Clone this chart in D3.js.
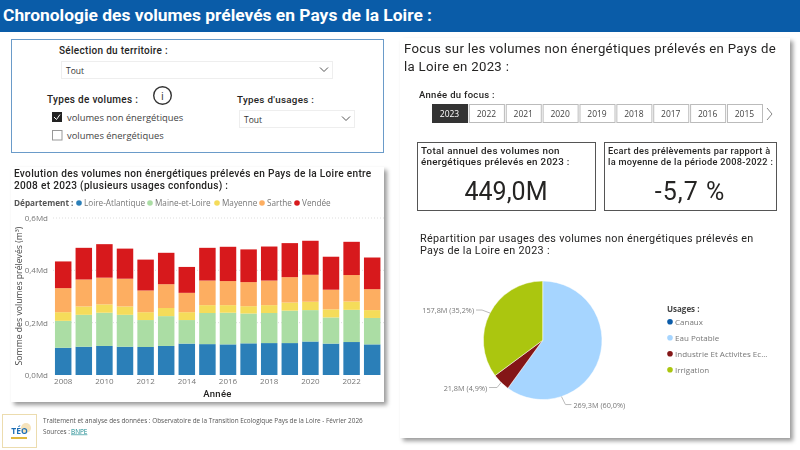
<!DOCTYPE html>
<html>
<head>
<meta charset="utf-8">
<script src="https://cdn.jsdelivr.net/npm/d3@7/dist/d3.min.js"></script>
<style>
  html, body { margin: 0; padding: 0; background: #fff; overflow: hidden; }
  svg { display: block; filter: blur(.3px); }
  text { font-family: "Open Sans", sans-serif; }
  .din { font-family: Roboto, sans-serif; letter-spacing: .3px; }
  .axis text { font-family: "Open Sans", sans-serif; font-size: 8px; fill: #777; }
  .axis path, .axis line { display: none; }
</style>
</head>
<body>
<div id="chart"></div>
<script>
// stacked bars, in Md de m3
const years = ["2008","2009","2010","2011","2012","2013","2014","2015","2016","2017","2018","2019","2020","2021","2022","2023"];
const departements = ["Loire-Atlantique","Maine-et-Loire","Mayenne","Sarthe","Vendée"];
const loireAtlantique = [.104,.108,.111,.108,.107,.111,.120,.118,.117,.121,.122,.122,.128,.120,.126,.117];
const maineEtLoire = [.103,.122,.127,.122,.103,.114,.090,.119,.121,.114,.115,.124,.120,.100,.123,.101];
const mayenne = [.033,.032,.032,.032,.030,.031,.030,.030,.029,.028,.030,.031,.032,.031,.032,.030];
const sarthe = [.092,.103,.102,.106,.083,.091,.074,.094,.092,.092,.094,.097,.103,.075,.101,.080];
const vendee = [.102,.121,.128,.115,.118,.120,.099,.125,.131,.125,.130,.130,.130,.126,.127,.121];
const yTicks = [0,.2,.4,.6];
const deptColors = ["#2b7fb8","#abdda4","#f5dc5a","#fdae61","#d7191c"];

// pie, in M de m3
const usages = ["Canaux","Eau Potable","Industrie Et Activites Ec...","Irrigation"];
const usageVolumes = [0.1,269.3,21.8,157.8];
const usageLabels = ["","269,3M (60,0%)","21,8M (4,9%)","157,8M (35,2%)"];
const usageColors = ["#0b5ca9","#a6d5ff","#841617","#abc60f"];

const focusYears = ["2023","2022","2021","2020","2019","2018","2017","2016","2015"];

const width = 800, height = 450;
const svg = d3.select("#chart").append("svg").attr("width", width).attr("height", height);

const defs = svg.append("defs");
defs.append("filter").attr("id", "shadow")
  .attr("x", "-5%").attr("y", "-5%").attr("width", "110%").attr("height", "110%")
  .append("feDropShadow")
  .attr("dx", 3).attr("dy", 3).attr("stdDeviation", 2)
  .attr("flood-color", "#000").attr("flood-opacity", .4);

function label(x, y, str, size, opts = {}) {
  return svg.append("text")
    .attr("class", opts.din ? "din" : null)
    .attr("x", x).attr("y", y)
    .attr("font-size", size)
    .attr("font-weight", opts.weight || 400)
    .attr("fill", opts.fill || "#252423")
    .attr("text-anchor", opts.anchor || "start")
    .text(str);
}

// header
svg.append("rect").attr("width", width).attr("height", 32).attr("fill", "#0a5ca8");
label(3, 21, "Chronologie des volumes prélevés en Pays de la Loire :", 17.4, { din: true, weight: 700, fill: "#fff" })
  .style("letter-spacing", "0");

// filter box
svg.append("rect").attr("x", 11.5).attr("y", 39.5).attr("width", 372).attr("height", 113)
  .attr("fill", "#fff").attr("stroke", "#6a9bc9");

function dropdown(x, y, w, h) {
  svg.append("rect").attr("x", x + .5).attr("y", y + .5).attr("width", w).attr("height", h)
    .attr("fill", "#fff").attr("stroke", "#eeeeee");
  label(x + 5, y + 13, "Tout", 8.5, { fill: "#333" });
  const cx = x + w - 8, cy = y + h / 2;
  svg.append("path").attr("d", `M${cx - 4},${cy - 2}L${cx},${cy + 2}L${cx + 4},${cy - 2}`)
    .attr("fill", "none").attr("stroke", "#555");
}
label(59, 54, "Sélection du territoire :", 10, { din: true, weight: 500 });
dropdown(61, 61, 271, 17);
label(47, 103, "Types de volumes :", 10, { din: true, weight: 500 });
label(237, 103, "Types d'usages :", 9.8, { din: true, weight: 500 });
dropdown(239, 110, 115, 17);

// info icon
svg.append("circle").attr("cx", 162.5).attr("cy", 95.5).attr("r", 8.8)
  .attr("fill", "none").attr("stroke", "#333").attr("stroke-width", 1.4);
label(162.5, 99.5, "i", 11, { anchor: "middle", fill: "#333" });

// check boxes
svg.append("rect").attr("x", 52).attr("y", 112).attr("width", 10).attr("height", 10).attr("fill", "#222");
svg.append("path").attr("d", "M54,117L56.5,119.5L60,114.5").attr("fill", "none").attr("stroke", "#fff");
svg.append("rect").attr("x", 52.5).attr("y", 130.5).attr("width", 9.5).attr("height", 9.5)
  .attr("fill", "#fff").attr("stroke", "#999");
label(67, 121, "volumes non énergétiques", 9.4, { fill: "#444" });
label(67, 139, "volumes énergétiques", 9.4, { fill: "#444" });

// bars panel
svg.append("rect").attr("x", 11).attr("y", 167).attr("width", 373).attr("height", 235)
  .attr("fill", "#fff").attr("filter", "url(#shadow)");
label(14, 177, "Evolution des volumes non énergétiques prélevés en Pays de la Loire entre", 10.1, { din: true, weight: 500 });
label(14, 188.5, "2008 et 2023 (plusieurs usages confondus) :", 10.1, { din: true, weight: 500 });

label(14, 206, "Département :", 8.2, { weight: 700, fill: "#555" });
const legendX = [84, 155, 222, 267, 302];
departements.forEach((d, i) => {
  svg.append("circle").attr("cx", legendX[i] - 5).attr("cy", 203).attr("r", 2.8).attr("fill", deptColors[i]);
  label(legendX[i], 206, d, 8.2, { fill: "#777" });
});

const x = d3.scaleBand().domain(years).range([52.9, 382.5]).paddingInner(.2).paddingOuter(.1);
const y = d3.scaleLinear().domain([0, .6]).range([375, 218]);

// gridlines go under the bars
svg.append("g").selectAll("line").data(yTicks.slice(1)).join("line")
  .attr("x1", 53).attr("x2", 384)
  .attr("y1", d => y(d)).attr("y2", d => y(d))
  .attr("stroke", "#ddd").attr("stroke-dasharray", "1 2");

const rows = years.map((yr, i) => ({
  year: yr,
  "Loire-Atlantique": loireAtlantique[i],
  "Maine-et-Loire": maineEtLoire[i],
  "Mayenne": mayenne[i],
  "Sarthe": sarthe[i],
  "Vendée": vendee[i],
}));
const stacked = d3.stack().keys(departements)(rows);

svg.append("g").selectAll("g").data(stacked).join("g")
  .attr("fill", (d, i) => deptColors[i])
  .selectAll("rect").data(d => d).join("rect")
  .attr("x", d => x(d.data.year))
  .attr("width", x.bandwidth())
  .attr("y", d => y(d[1]))
  .attr("height", d => y(d[0]) - y(d[1]));

svg.append("g").attr("class", "axis").attr("transform", "translate(53,0)")
  .call(d3.axisLeft(y).tickValues(yTicks).tickSize(0).tickPadding(5)
    .tickFormat(d => d3.format(".1f")(d).replace(".", ",") + "Md"));
svg.append("g").attr("class", "axis").attr("transform", "translate(0,375)")
  .call(d3.axisBottom(x).tickValues(years.filter((d, i) => i % 2 === 0)).tickSize(0).tickPadding(3));

label(217.5, 397, "Année", 9.5, { din: true, weight: 500, anchor: "middle" });
svg.append("text").attr("transform", "translate(22,296) rotate(-90)")
  .attr("text-anchor", "middle").attr("font-size", 8.7).attr("fill", "#444")
  .text("Somme des volumes prélevés (m³)");

// footer
svg.append("rect").attr("x", 2.5).attr("y", 414.5).attr("width", 34).attr("height", 33)
  .attr("fill", "#fff").attr("stroke", "#ecdcae");
svg.append("circle").attr("cx", 26).attr("cy", 428).attr("r", 5).attr("fill", "#f6e3bb");
label(19.5, 434, "TÉO", 8.5, { weight: 700, fill: "#1f6fb5", anchor: "middle" });
svg.append("rect").attr("x", 11).attr("y", 437).attr("width", 16).attr("height", 2).attr("fill", "#e0b73c");
label(43, 423, "Traitement et analyse des données : Observatoire de la Transition Ecologique Pays de la Loire - Février 2026", 6.4, { fill: "#555" });
label(43, 433.5, "Sources :", 6.4, { fill: "#555" });
label(71, 433.5, "BNPE", 6.4, { fill: "#1b8a8f" }).attr("text-decoration", "underline");

// right panel
svg.append("rect").attr("x", 400).attr("y", 38).attr("width", 390).attr("height", 400)
  .attr("fill", "#fff").attr("filter", "url(#shadow)");
label(404, 53, "Focus sur les volumes non énergétiques prélevés en Pays de", 13.2, { din: true });
label(404, 71, "la Loire en 2023 :", 13.2, { din: true });
label(419, 98, "Année du focus :", 9.5, { din: true, weight: 500 });

const focusX = d3.scaleBand().domain(focusYears).range([432, 762]).paddingInner(.05);
svg.append("g").selectAll("rect").data(focusYears).join("rect")
  .attr("x", d => focusX(d) + .5).attr("y", 104.5)
  .attr("width", focusX.bandwidth()).attr("height", 18)
  .attr("fill", (d, i) => i === 0 ? "#333" : "#fff")
  .attr("stroke", (d, i) => i === 0 ? "#333" : "#bbb");
svg.append("g").selectAll("text").data(focusYears).join("text")
  .attr("x", d => focusX(d) + focusX.bandwidth() / 2).attr("y", 117)
  .attr("text-anchor", "middle").attr("font-size", 8.5)
  .attr("fill", (d, i) => i === 0 ? "#fff" : "#444")
  .text(d => d);
svg.append("path").attr("d", "M767,108L772,114L767,120").attr("fill", "none").attr("stroke", "#888");

// the two cards
function card(cx, w, lines, value, textSize, spacing) {
  svg.append("rect").attr("x", cx + .5).attr("y", 142.5).attr("width", w).attr("height", 68)
    .attr("fill", "#fff").attr("stroke", "#555");
  lines.forEach((l, i) => label(cx + 4, 154 + i * 11, l, textSize, { din: true, weight: 500 }));
  label(cx + w / 2, 200, value, 25, { din: true, anchor: "middle" }).style("letter-spacing", spacing);
}
card(417, 178, ["Total annuel des volumes non", "énergétiques prélevés en 2023 :"], "449,0M", 9.8, "0");
card(604, 172, ["Ecart des prélèvements par rapport à", "la moyenne de la période 2008-2022 :"], "-5,7 %", 9.2, "1px");

label(420, 242, "Répartition par usages des volumes non énergétiques prélevés en", 10.8, { din: true });
label(420, 254, "Pays de la Loire en 2023 :", 10.8, { din: true });

// pie
const pieG = svg.append("g").attr("transform", "translate(542.7,340.3)");
const radius = 59.3;
const pie = d3.pie().sort(null)(usageVolumes);
const arc = d3.arc().innerRadius(0).outerRadius(radius);
pieG.selectAll("path").data(pie).join("path")
  .attr("d", arc)
  .attr("fill", (d, i) => usageColors[i])
  .attr("stroke", "#fff").attr("stroke-width", .5);

// leader lines: start on the rim, one bend, then a flat run to the label
const leaders = [null,
  { angle: 2.82, bend: [4, 8], run: 6, anchor: "start" },
  { angle: 3.92, bend: [-4, 5], run: -8, anchor: "end" },
  { angle: 5.19, bend: [-8, -3], run: -6, anchor: "end" },
];
pie.forEach((d, i) => {
  const l = leaders[i];
  if (!l) return;
  const sx = Math.sin(l.angle) * radius, sy = -Math.cos(l.angle) * radius;
  const bx = sx + l.bend[0], by = sy + l.bend[1];
  pieG.append("path")
    .attr("d", `M${sx},${sy}L${bx},${by}L${bx + l.run},${by}`)
    .attr("fill", "none").attr("stroke", "#bbb");
  pieG.append("text")
    .attr("x", bx + l.run + (l.run > 0 ? 2 : -2)).attr("y", by + 3)
    .attr("text-anchor", l.anchor).attr("font-size", 7.3).attr("fill", "#777")
    .text(usageLabels[i]);
});

label(667, 312, "Usages :", 8, { weight: 700, fill: "#444" });
usages.forEach((u, i) => {
  const ly = 321.7 + i * 16;
  svg.append("circle").attr("cx", 670).attr("cy", ly).attr("r", 2.8).attr("fill", usageColors[i]);
  label(675, ly + 3, u, 8, { fill: "#777" });
});
</script>
</body>
</html>
